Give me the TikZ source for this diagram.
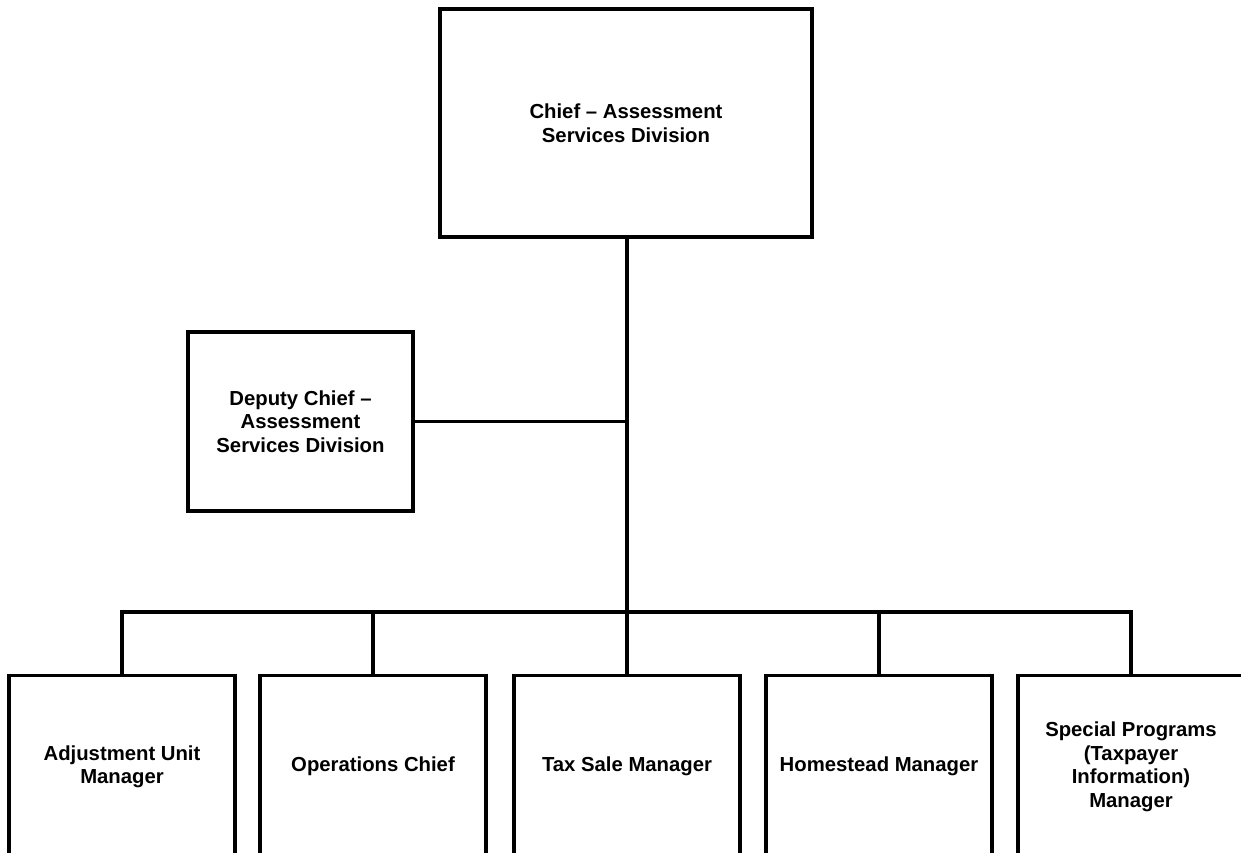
\documentclass[tikz,border=0pt]{standalone}
\usepackage{fontspec}
\setmainfont{Liberation Sans}
\begin{document}
\begin{tikzpicture}[x=1pt,y=-1pt,
  box/.style={draw=black, line width=3.2pt, fill=white, align=center,
    inner sep=4pt, font=\bfseries\fontsize{20.3}{23.5}\selectfont},
  staffbox/.style={box, minimum width=226pt, minimum height=182pt, anchor=north},
  link/.style={draw=black, line width=3.2pt}]
  \useasboundingbox (0,0) rectangle (1241,852);
  \fill[white] (0,0) rectangle (1241,852);
  \begin{scope}
    \clip (0,0) rectangle (1241,852);

    % top of the chart
    \node[box, minimum width=372pt, minimum height=228pt] (chief) at (626,123)
      {Chief – Assessment\\Services Division};
    \node[box, minimum width=225pt, minimum height=179pt] (deputy) at (300.5,421.5)
      {Deputy Chief –\\Assessment\\Services Division};

    % managers reporting to the chief
    \node[staffbox] (adj)  at (122,674)  {Adjustment Unit\\Manager};
    \node[staffbox] (ops)  at (373,674)  {Operations Chief};
    \node[staffbox] (tax)  at (627,674)  {Tax Sale Manager};
    \node[staffbox] (home) at (879,674)  {Homestead Manager};
    \node[staffbox] (spec) at (1131,674) {Special Programs\\(Taxpayer\\Information)\\Manager};

    \coordinate (bus) at (627,612);

    % connectors
    \draw[link] (chief.south -| tax.north) -- (tax.north);
    \draw[link] (deputy.east) -- (deputy.east -| tax.north);
    \draw[link] (adj.north) -- (adj.north |- bus) -- (spec.north |- bus) -- (spec.north);
    \draw[link] (ops.north) -- (ops.north |- bus);
    \draw[link] (home.north) -- (home.north |- bus);
  \end{scope}
\end{tikzpicture}
\end{document}
